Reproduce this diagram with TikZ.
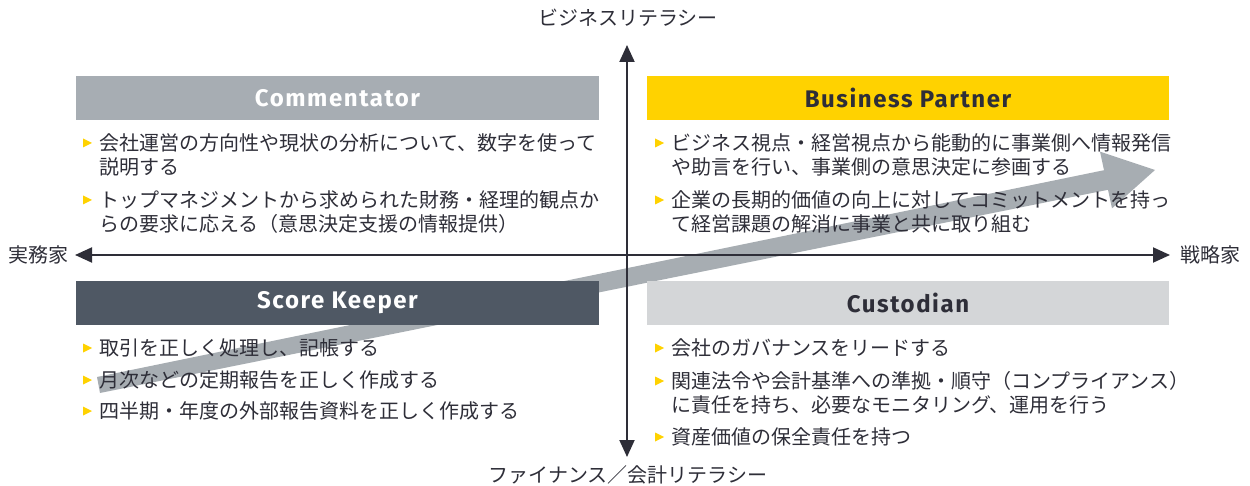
\documentclass[tikz,border=0pt]{standalone}
\usepackage{fontspec}
\setmainfont{Fira Sans}
\newfontfamily\hdrfont{Fira Sans}[LetterSpace=6.5]
\newfontfamily\jp{Noto Sans CJK JP}
\usetikzlibrary{arrows.meta}
\definecolor{ink}{HTML}{2E2E38}
\definecolor{eyyellow}{HTML}{FFD200}
\definecolor{gmid}{HTML}{A7ADB3}
\definecolor{gdark}{HTML}{4F5864}
\definecolor{glight}{HTML}{D4D6D8}
\definecolor{garrow}{HTML}{A7ADB2}
\newcommand\bultri[2]{\fill[bul] (#1,#2-4.5) -- (#1+9,#2) -- (#1,#2+4.5) -- cycle;}
\begin{document}
\begin{tikzpicture}[x=1pt,y=-1pt,
  txt/.style={inner sep=0pt, anchor=west, text=ink, font=\jp\fontsize{20}{24}\selectfont, text height=17.6pt, text depth=2.4pt},
  lbl/.style={inner sep=0pt, text=ink, font=\jp\fontsize{20}{24}\selectfont, text height=17.6pt, text depth=2.4pt},
  hdr/.style={rectangle, inner sep=0pt, minimum height=44pt, font=\hdrfont\bfseries\fontsize{24}{26}\selectfont},
  bul/.style={fill=eyyellow},
  axis/.style={draw=ink, line width=2pt, {Triangle[length=17pt,width=15pt]}-{Triangle[length=17pt,width=15pt]}}]
\useasboundingbox (0,0) rectangle (1250,486);
% big gray arrow
\fill[garrow] (97,377) -- (1104,170.2) -- (1100,151.6) -- (1155,170) -- (1112,208.4) -- (1108,189.8) -- (100,393) -- cycle;
% axes
\coordinate (xl) at (75,255);
\coordinate (xr) at (1170,255);
\coordinate (yt) at (627,45);
\coordinate (yb) at (627,457);
\draw[axis] (xl) -- (xr);
\draw[axis] (yb) -- (yt);
% axis labels
\node[lbl] (ltop) at (628,18) {ビジネスリテラシー};
\node[lbl] (lbot) at (628,475) {ファイナンス／会計リテラシー};
\node[lbl] (lleft) at (39,255) {実務家};
\node[lbl] (lright) at (1210,255) {戦略家};
% headers
\node[hdr, fill=gmid, text=white, minimum width=523pt] (cm) at (337.5,98) {Commentator};
\node[hdr, fill=eyyellow, text=ink, minimum width=522pt] (bp) at (908,98) {Business Partner};
\node[hdr, fill=gdark, text=white, minimum width=523pt] (sk) at (337.5,303) {Score Keeper};
\node[hdr, fill=glight, text=ink, minimum width=522pt] (cu) at (908,303) {Custodian};
% Commentator bullets
\bultri{83}{143}
\node[txt] (c1a) at (99,143) {会社運営の方向性や現状の分析について、数字を使って};
\node[txt] (c1b) at (99,167) {説明する};
\bultri{83}{200}
\node[txt] (c2a) at (99,200) {トップマネジメントから求められた財務・経理的観点か};
\node[txt] (c2b) at (99,224) {らの要求に応える（意思決定支援の情報提供）};
% Business Partner bullets
\bultri{655}{143}
\node[txt] (b1a) at (671,143) {ビジネス視点・経営視点から能動的に事業側へ情報発信};
\node[txt] (b1b) at (671,167) {や助言を行い、事業側の意思決定に参画する};
\bultri{655}{200}
\node[txt] (b2a) at (671,200) {企業の長期的価値の向上に対してコミットメントを持っ};
\node[txt] (b2b) at (671,224) {て経営課題の解消に事業と共に取り組む};
% Score Keeper bullets
\bultri{83}{348}
\node[txt] (s1) at (99,348) {取引を正しく処理し、記帳する};
\bultri{83}{380}
\node[txt] (s2) at (99,380) {月次などの定期報告を正しく作成する};
\bultri{83}{411}
\node[txt] (s3) at (99,411) {四半期・年度の外部報告資料を正しく作成する};
% Custodian bullets
\bultri{655}{348}
\node[txt] (u1) at (671,348) {会社のガバナンスをリードする};
\bultri{655}{381}
\node[txt] (u2a) at (671,381) {関連法令や会計基準への準拠・順守（コンプライアンス）};
\node[txt] (u2b) at (671,405) {に責任を持ち、必要なモニタリング、運用を行う};
\bultri{655}{437}
\node[txt] (u3) at (671,437) {資産価値の保全責任を持つ};
\end{tikzpicture}
\end{document}
